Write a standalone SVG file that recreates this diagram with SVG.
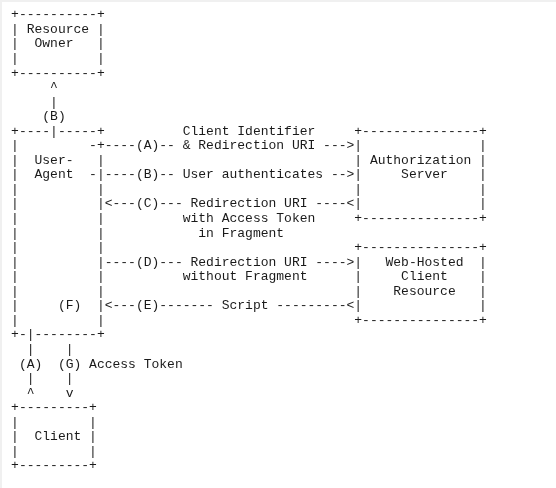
<svg xmlns="http://www.w3.org/2000/svg" width="556" height="488" viewBox="0 0 556 488">
<defs>
<filter id="gray" x="0" y="0" width="556" height="488" filterUnits="userSpaceOnUse"><feOffset dx="0" dy="0"/></filter>
</defs>
<style>
text { font-family: "Liberation Mono", "DejaVu Sans Mono", monospace; font-size: 13px; fill: #1a1a1a; white-space: pre; }
</style>
<rect x="0" y="0" width="556" height="488" fill="#ffffff"/>
<rect x="0" y="0" width="556" height="2" fill="#f0f0f0"/>
<rect x="0" y="0" width="2" height="488" fill="#f0f0f0"/>
<g filter="url(#gray)">
<g id="resource-owner">
<text x="11.1" y="18.3">+----------+</text>
<text x="11.1" y="32.85">| Resource |</text>
<text x="11.1" y="47.4">|  Owner   |</text>
<text x="11.1" y="61.95">|          |</text>
<text x="11.1" y="76.5">+----------+</text>
</g>
<g id="user-agent">
<text x="11.1" y="134.7">+----|-----+</text>
<text x="11.1" y="149.25">|</text><text x="96.9" y="149.25">+</text>
<text x="11.1" y="163.8">|  User-   |</text>
<text x="11.1" y="178.35">|  Agent</text><text x="96.9" y="178.35">|</text>
<text x="11.1" y="192.9">|          |</text>
<text x="11.1" y="207.45">|          |</text>
<text x="11.1" y="222">|          |</text>
<text x="11.1" y="236.55">|          |</text>
<text x="11.1" y="251.1">|          |</text>
<text x="11.1" y="265.65">|          |</text>
<text x="11.1" y="280.2">|          |</text>
<text x="11.1" y="294.75">|          |</text>
<text x="11.1" y="309.3">|     (F)  |</text>
<text x="11.1" y="323.85">|          |</text>
<text x="11.1" y="338.4">+-|--------+</text>
</g>
<g id="authorization-server">
<text x="354.3" y="134.7">+---------------+</text>
<text x="354.3" y="149.25">|               |</text>
<text x="354.3" y="163.8">| Authorization |</text>
<text x="354.3" y="178.35">|     Server    |</text>
<text x="354.3" y="192.9">|               |</text>
<text x="354.3" y="207.45">|               |</text>
<text x="354.3" y="222">+---------------+</text>
</g>
<g id="web-hosted-client-resource">
<text x="354.3" y="251.1">+---------------+</text>
<text x="354.3" y="265.65">|   Web-Hosted  |</text>
<text x="354.3" y="280.2">|     Client    |</text>
<text x="354.3" y="294.75">|    Resource   |</text>
<text x="354.3" y="309.3">|               |</text>
<text x="354.3" y="323.85">+---------------+</text>
</g>
<g id="client">
<text x="11.1" y="411.15">+---------+</text>
<text x="11.1" y="425.7">|         |</text>
<text x="11.1" y="440.25">|  Client |</text>
<text x="11.1" y="454.8">|         |</text>
<text x="11.1" y="469.35">+---------+</text>
</g>
<g id="connectors">
<text x="50.1" y="91.05">^</text>
<text x="50.1" y="105.6">|</text>
<text x="42.3" y="120.15">(B)</text>
<text x="182.7" y="134.7">Client Identifier</text>
<text x="89.1" y="149.25">-</text><text x="104.7" y="149.25">----(A)-- &amp; Redirection URI ---&gt;</text>
<text x="89.1" y="178.35">-</text><text x="104.7" y="178.35">----(B)-- User authenticates --&gt;</text>
<text x="104.7" y="207.45">&lt;---(C)--- Redirection URI ----&lt;</text>
<text x="182.7" y="222">with Access Token</text>
<text x="198.3" y="236.55">in Fragment</text>
<text x="104.7" y="265.65">----(D)--- Redirection URI ----&gt;</text>
<text x="182.7" y="280.2">without Fragment</text>
<text x="104.7" y="309.3">&lt;---(E)------- Script ---------&lt;</text>
<text x="26.7" y="352.95">|</text><text x="65.7" y="352.95">|</text>
<text x="18.9" y="367.5">(A)</text><text x="57.9" y="367.5">(G) Access Token</text>
<text x="26.7" y="382.05">|</text><text x="65.7" y="382.05">|</text>
<text x="26.7" y="396.6">^</text><text x="65.7" y="396.6">v</text>
</g>
</g>
</svg>
